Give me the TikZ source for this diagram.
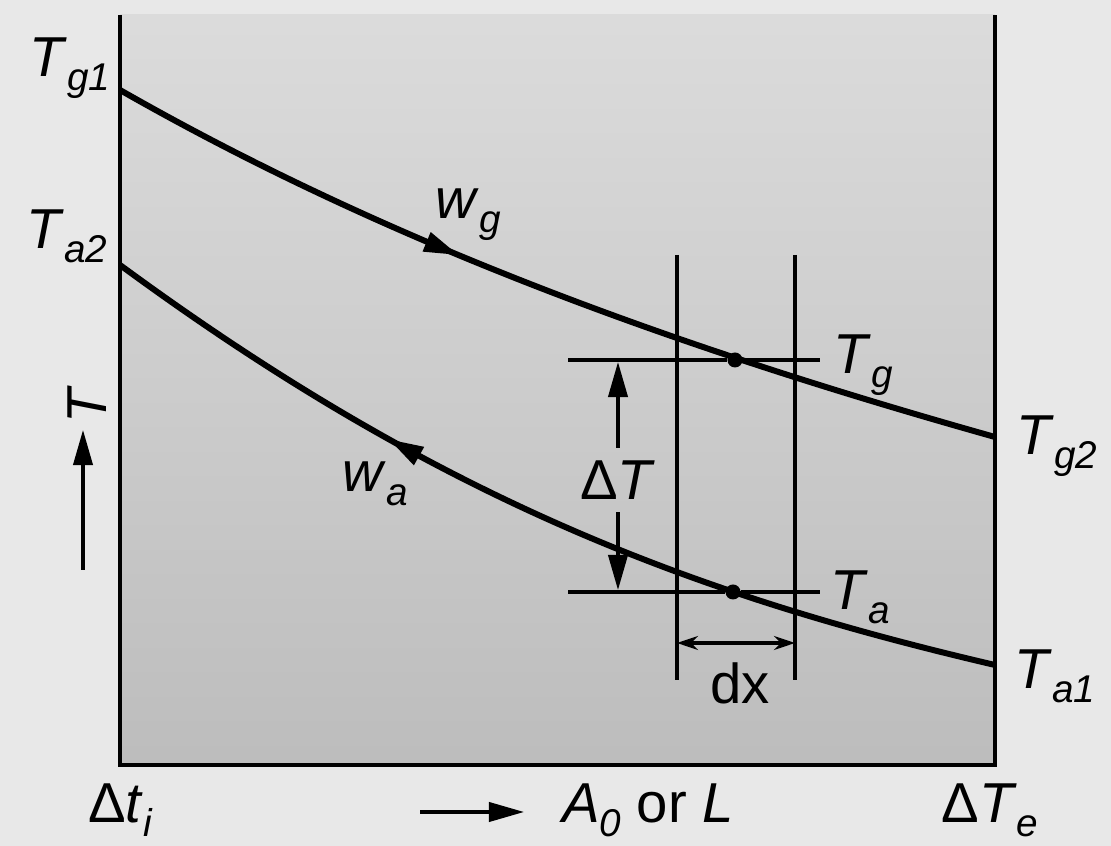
\documentclass[tikz,border=0pt]{standalone}
\usepackage{fontspec}
\setmainfont{Liberation Sans}
\usetikzlibrary{arrows.meta, decorations.markings}

\newcommand{\tsub}[2]{\textit{#1}\raisebox{-4pt}{\fontsize{11}{11}\selectfont\itshape #2}}

\begin{document}
\begin{tikzpicture}[x=0.01cm, y=-0.01cm,
  >={Triangle[length=10pt, width=5.5pt]},
  lbl/.style={font=\fontsize{16}{18}\selectfont, inner sep=0pt},
  curve/.style={line width=1.7pt},
  thinline/.style={line width=0.9pt},
  dot/.style={circle, fill, inner sep=0pt, minimum size=0.15cm}]
  \useasboundingbox (0,0) rectangle (1111,846);
  \fill[black!9] (0,0) rectangle (1111,846);
  \shade[top color=black!14, bottom color=black!26] (120,15) rectangle (995,765);

  % frame
  \coordinate (tl) at (120,15);
  \coordinate (bl) at (120,765);
  \coordinate (br) at (995,765);
  \coordinate (tr) at (995,15);
  \draw[line width=1.1pt] (tl) -- (bl) -- (br) -- (tr);

  % end points of the two curves
  \coordinate (g1) at (120,90);
  \coordinate (g2) at (995,437);
  \coordinate (a2) at (120,265);
  \coordinate (a1) at (995,665);

  \draw[curve, postaction={decorate},
    decoration={markings, mark=at position 0.4 with {\arrow{>}}}]
    (g1) .. controls (400,250) and (700,354) .. (g2);
  \draw[curve, postaction={decorate},
    decoration={markings, mark=at position 0.33 with {\arrowreversed{>}}}]
    (a2) .. controls (440,500) and (695,595) .. (a1);

  % element dx
  \coordinate (v1t) at (677,255);
  \coordinate (v1b) at (677,680);
  \coordinate (v2t) at (795,255);
  \coordinate (v2b) at (795,680);
  \draw[thinline] (v1t) -- (v1b);
  \draw[thinline] (v2t) -- (v2b);

  \node[dot] (pg) at (735,360) {};
  \node[dot] (pa) at (733,592) {};
  \coordinate (hgL) at (568,360);
  \coordinate (hgR) at (820,360);
  \coordinate (haL) at (568,592);
  \coordinate (haR) at (820,592);
  \draw[thinline] (hgL) -- (pg) -- (hgR);
  \draw[thinline] (haL) -- (pa) -- (haR);

  \node[lbl] (dT) at (618,480) {Δ\textit{T}};
  \draw[thinline, ->] (dT.north) ++(0,-12) -- (618,362);
  \draw[thinline, ->] (dT.south) ++(0,12) -- (618,590);

  \coordinate (dxl) at (677,643);
  \coordinate (dxr) at (795,643);
  \draw[thinline, {Stealth[length=6pt,width=4pt]}-{Stealth[length=6pt,width=4pt]}] (dxl) -- (dxr);
  \node[lbl] (dx) at (740,683) {dx};

  % labels
  \node[lbl] (Tg1) at (70,68) {\tsub{T}{g1}};
  \node[lbl] (Ta2) at (67,236) {\tsub{T}{a2}};
  \node[lbl] (Tg2) at (1057,446) {\tsub{T}{g2}};
  \node[lbl] (Ta1) at (1055,676) {\tsub{T}{a1}};
  \node[lbl] (Tg) at (863,365) {\tsub{T}{g}};
  \node[lbl] (Ta) at (860,597) {\tsub{T}{a}};
  \node[lbl] (wg) at (468,215) {\tsub{w}{g}};
  \node[lbl] (wa) at (375,484) {\tsub{w}{a}};

  % axes
  \node[lbl, rotate=90] (Tax) at (87,405) {\textit{T}};
  \coordinate (ay0) at (83,570);
  \coordinate (ay1) at (83,430);
  \draw[thinline, ->] (ay0) -- (ay1);

  \node[lbl] (dti) at (120,810) {Δ\tsub{t}{i}};
  \node[lbl] (A0L) at (648,810) {\tsub{A}{0} or \textit{L}};
  \node[lbl] (dTe) at (990,810) {Δ\tsub{T}{e}};
  \coordinate (ax0) at (420,812);
  \coordinate (ax1) at (524,812);
  \draw[thinline, ->] (ax0) -- (ax1);
\end{tikzpicture}
\end{document}
